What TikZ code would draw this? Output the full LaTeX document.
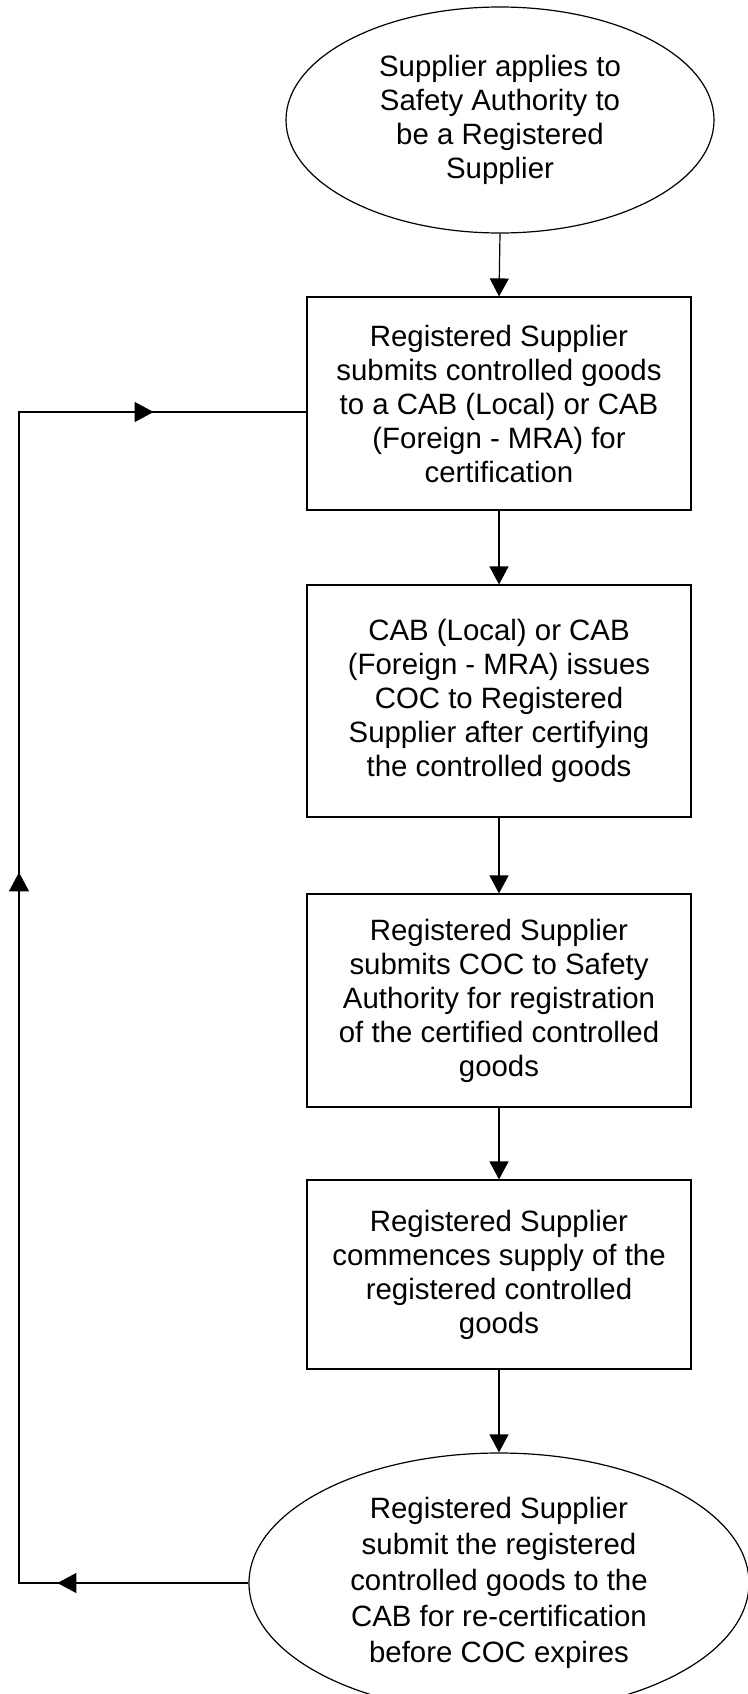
\documentclass[tikz,border=0pt]{standalone}
\usepackage{fontspec}
\setmainfont{Liberation Sans}
\usetikzlibrary{shapes.geometric,arrows.meta,decorations.markings}
\begin{document}
\begin{tikzpicture}[x=1pt,y=-1pt,
  every node/.style={font=\fontsize{29.4}{34}\selectfont, align=center, inner sep=0pt},
  stepbox/.style={draw, line width=1.2pt, minimum width=384pt},
  oval/.style={draw, ellipse, line width=1.2pt},
  flow/.style={line width=1.2pt, -{Triangle[length=18pt,width=19pt]}},
  loopline/.style={line width=1.2pt}
]
\useasboundingbox (0,0) rectangle (747,1694);

\node[oval, minimum width=428pt, minimum height=226pt] (e1) at (500,120)
  {Supplier applies to\\Safety Authority to\\be a Registered\\Supplier};
\node[stepbox, minimum height=213pt] (b1) at (499,403.5)
  {Registered Supplier\\submits controlled goods\\to a CAB (Local) or CAB\\(Foreign - MRA) for\\certification};
\node[stepbox, minimum height=232pt] (b2) at (499,701)
  {CAB (Local) or CAB\\(Foreign - MRA) issues\\COC to Registered\\Supplier after certifying\\the controlled goods};
\node[stepbox, minimum height=213pt] (b3) at (499,1000.5)
  {Registered Supplier\\submits COC to Safety\\Authority for registration\\of the certified controlled\\goods};
\node[stepbox, minimum height=189pt] (b4) at (499,1274.5)
  {Registered Supplier\\commences supply of the\\registered controlled\\goods};
\node[oval, minimum width=500pt, minimum height=260pt] (e2) at (499,1583) {};
\begin{scope}
  \clip (0,0) rectangle (747,1669);
  \node[font=\fontsize{29.4}{36}\selectfont] (e2t) at (e2.center)
    {Registered Supplier\\submit the registered\\controlled goods to the\\CAB for re-certification\\before COC expires};
\end{scope}

\draw[flow] (e1.south) -- (b1.north);
\draw[flow] (b1.south) -- (b2.north);
\draw[flow] (b2.south) -- (b3.north);
\draw[flow] (b3.south) -- (b4.north);
\draw[flow] (b4.south) -- (e2.north);

\coordinate (lb) at (19,1583);
\coordinate (lt) at (19,412);
\draw[loopline, postaction={decorate}, decoration={markings,
  mark=at position 191pt with {\arrow{Triangle[length=19pt,width=20pt]}},
  mark=at position 940pt with {\arrow{Triangle[length=19pt,width=20pt]}},
  mark=at position 1535pt with {\arrow{Triangle[length=19pt,width=20pt]}}}]
  (e2.west) -- (lb) -- (lt) -- (lt -| b1.west);
\end{tikzpicture}
\end{document}
